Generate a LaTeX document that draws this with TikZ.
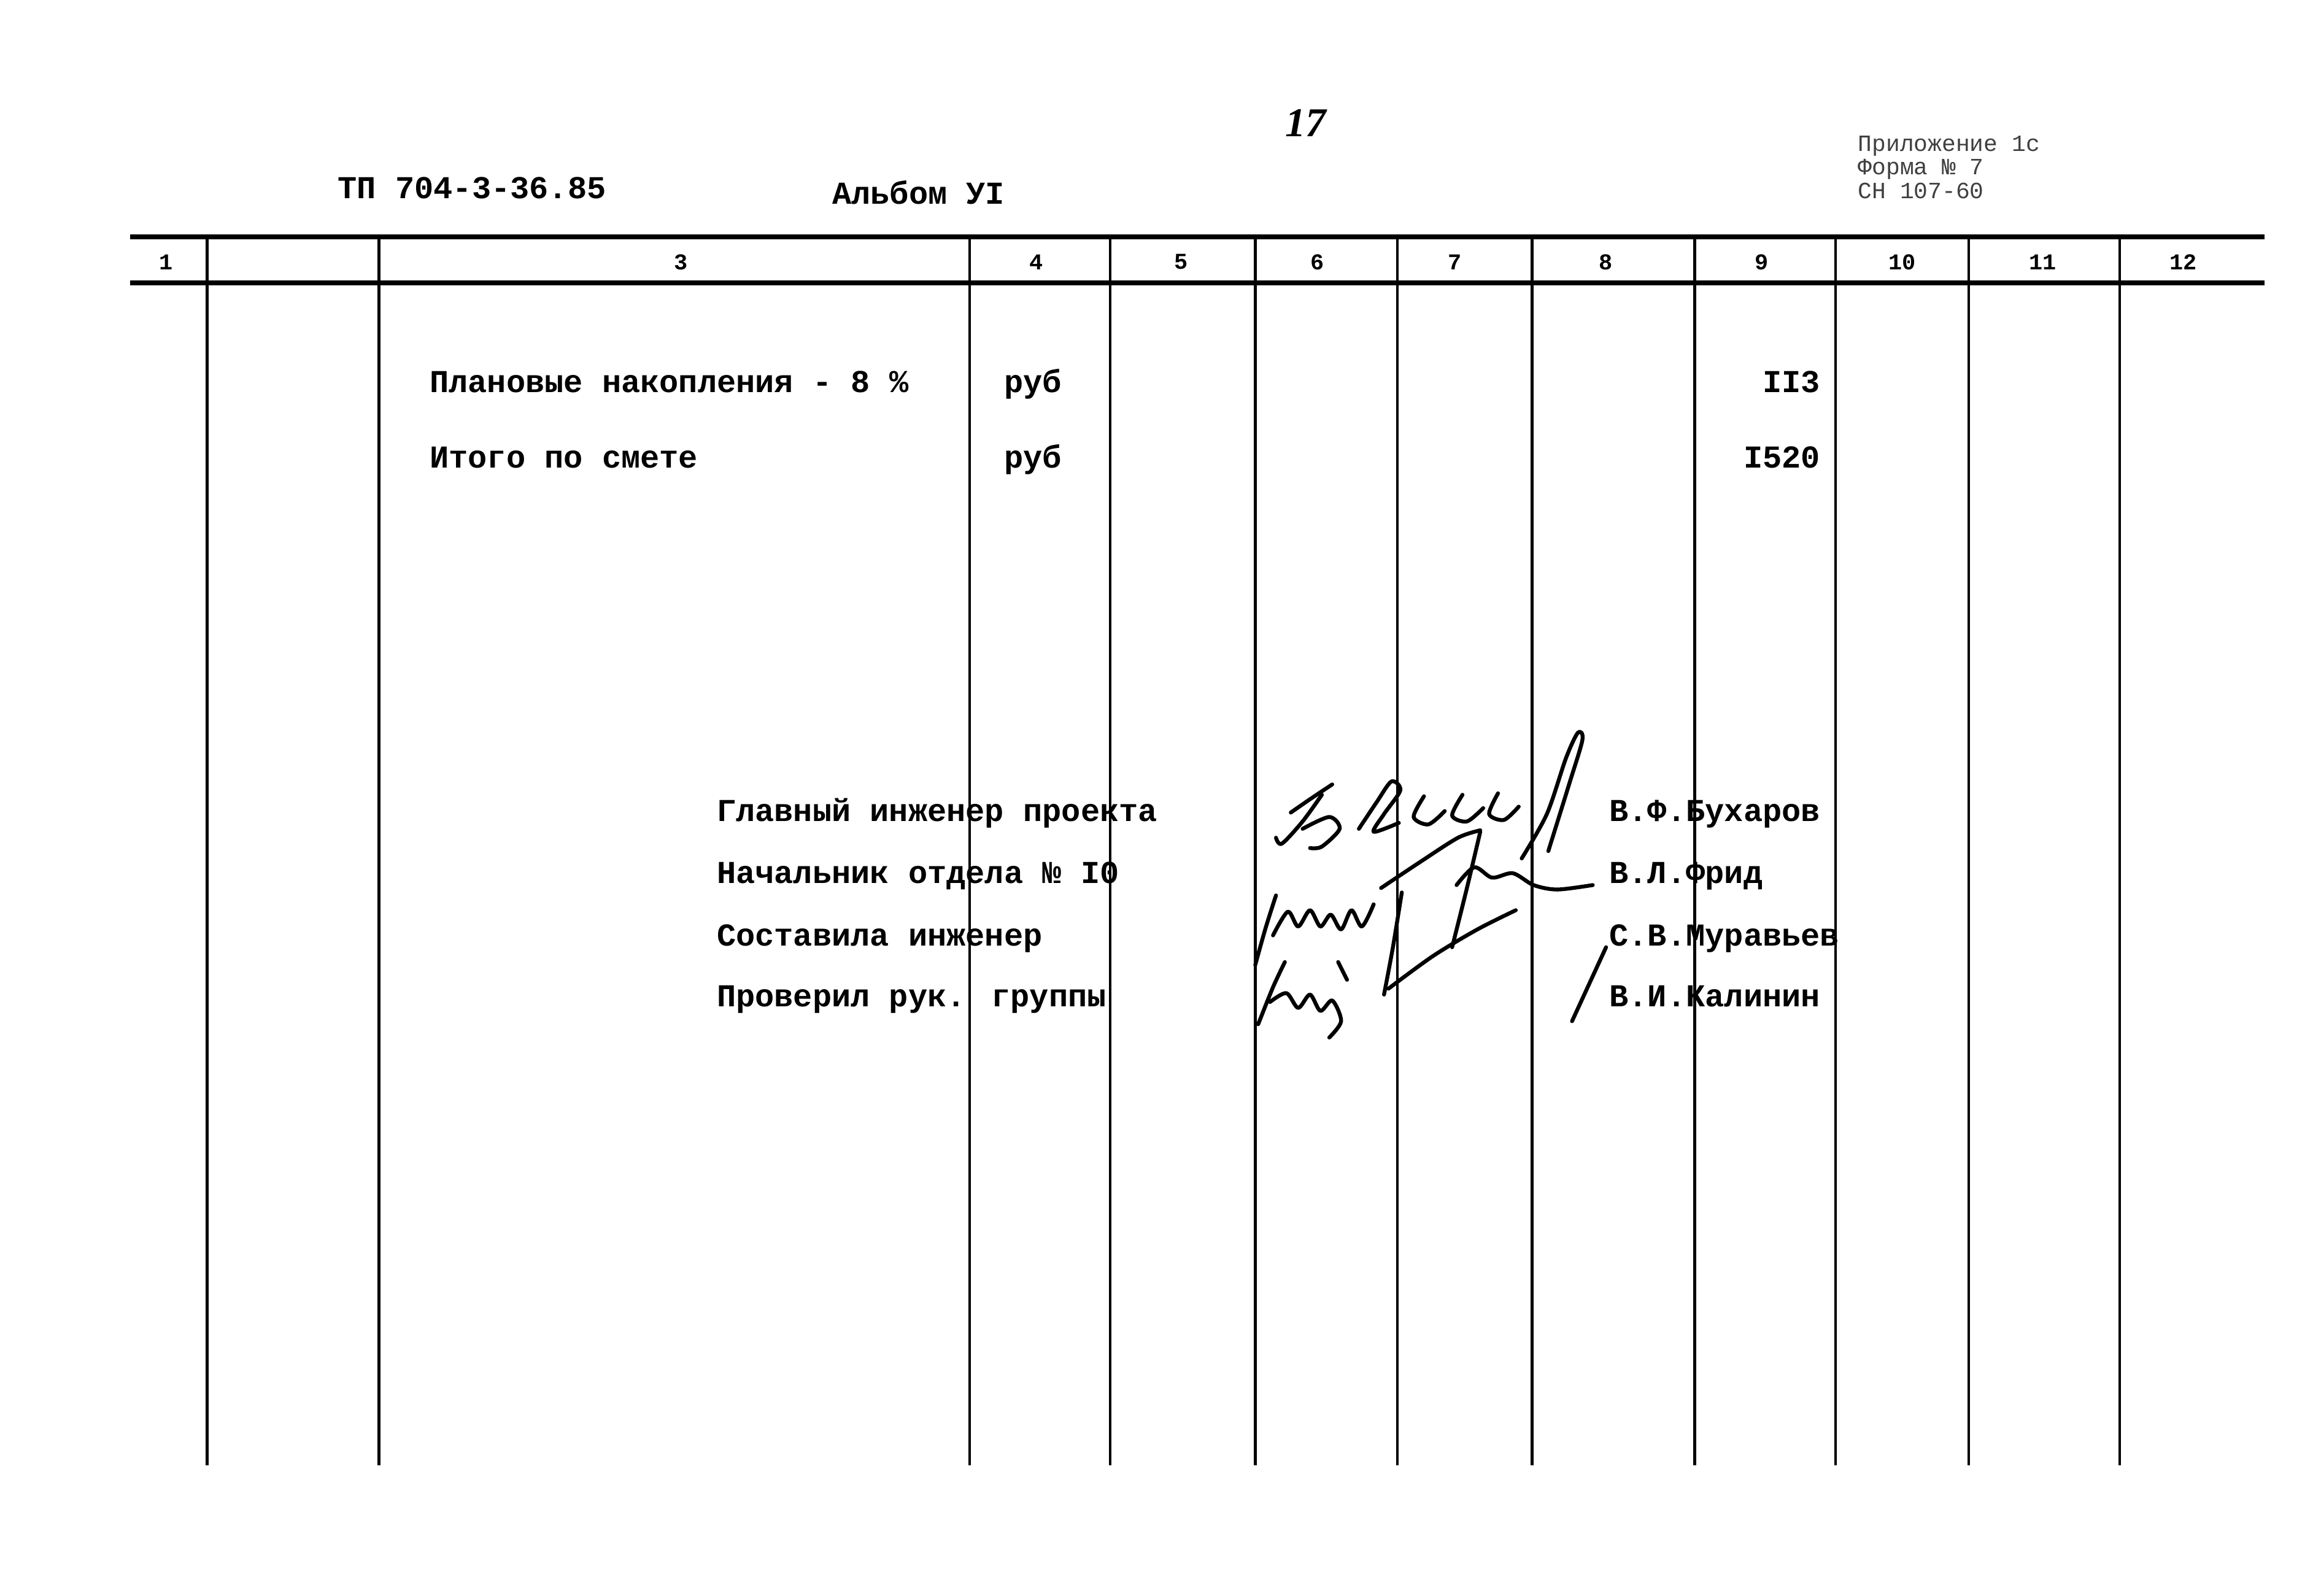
\documentclass[tikz,border=0pt]{standalone}
\usepackage{fontspec}
\usepackage{tikz}
\usetikzlibrary{arrows}
\newfontfamily\tw{Liberation Mono}
\newfontfamily\hand{Liberation Serif}
\tikzset{
  txt/.style={anchor=base west, inner sep=0pt, font=\tw\bfseries\fontsize{14.8}{16}\selectfont},
  txtr/.style={anchor=base east, inner sep=0pt, font=\tw\bfseries\fontsize{14.8}{16}\selectfont},
  num/.style={inner sep=0pt, font=\tw\bfseries\fontsize{10.5}{11}\selectfont},
  small/.style={anchor=base west, inner sep=0pt, text=black!75, font=\tw\fontsize{10.8}{11}\selectfont},
  rule/.style={line width=2.2pt},
  col/.style={line width=1.3pt},
  sig/.style={line width=1.8pt, line cap=round, line join=round}
}

\begin{document}
\begin{tikzpicture}[x=0.02412cm,y=-0.02412cm]
\useasboundingbox (0,0) rectangle (1568,1078);
\node[txt] (tp) at (228,134) {ТП 704-3-36.85};
\node[txt] (alb) at (562,138) {Альбом УI};
\node[inner sep=0pt, font=\hand\bfseries\itshape\fontsize{19}{20}\selectfont] (pg) at (882,83) {17};
\node[small] (pr1) at (1255,102) {Приложение 1с};
\node[small] (pr2) at (1255,118) {Форма № 7};
\node[small] (pr3) at (1255,134) {СН 107-60};
% header rules
\coordinate (tl) at (88,160);
\coordinate (tr) at (1530,160);
\coordinate (bl) at (88,191);
\coordinate (br) at (1530,191);
\draw[rule] (tl) -- (tr);
\draw[rule] (bl) -- (br);
% column lines
\coordinate (a1) at (140,160);
\coordinate (a2) at (140,990);
\coordinate (b1) at (256,160);
\coordinate (b2) at (256,990);
\coordinate (c1) at (655,160);
\coordinate (c2) at (655,990);
\coordinate (d1) at (750,160);
\coordinate (d2) at (750,990);
\coordinate (e1) at (848,160);
\coordinate (e2) at (848,990);
\coordinate (f1) at (944,160);
\coordinate (f2) at (944,990);
\coordinate (g1) at (1035,160);
\coordinate (g2) at (1035,990);
\coordinate (h1) at (1145,160);
\coordinate (h2) at (1145,990);
\coordinate (i1) at (1240,160);
\coordinate (i2) at (1240,990);
\coordinate (j1) at (1330,160);
\coordinate (j2) at (1330,990);
\coordinate (k1) at (1432,160);
\coordinate (k2) at (1432,990);
\draw[col] (a1) -- (a2);
\draw[col] (b1) -- (b2);
\draw[col] (c1) -- (c2);
\draw[col] (d1) -- (d2);
\draw[col] (e1) -- (e2);
\draw[col] (f1) -- (f2);
\draw[col] (g1) -- (g2);
\draw[col] (h1) -- (h2);
\draw[col] (i1) -- (i2);
\draw[col] (j1) -- (j2);
\draw[col] (k1) -- (k2);
% column numbers
\node[num] (n1) at (112,177) {1};
\node[num] (n3) at (460,177) {3};
\node[num] (n4) at (700,177) {4};
\node[num] (n5) at (798,177) {5};
\node[num] (n6) at (890,177) {6};
\node[num] (n7) at (983,177) {7};
\node[num] (n8) at (1085,177) {8};
\node[num] (n9) at (1190,177) {9};
\node[num] (n10) at (1285,177) {10};
\node[num] (n11) at (1380,177) {11};
\node[num] (n12) at (1475,177) {12};
% rows
\node[txt] (r1) at (290,265) {Плановые накопления - 8 \%};
\node[txt] (u1) at (678,265) {руб};
\node[txtr] (v1) at (1230,265) {II3};
\node[txt] (r2) at (290,316) {Итого по смете};
\node[txt] (u2) at (678,316) {руб};
\node[txtr] (v2) at (1230,316) {I520};
% signatures
\node[txt] (s1) at (484,555) {Главный инженер проекта};
\node[txt] (s2) at (484,597) {Начальник отдела № I0};
\node[txt] (s3) at (484,639) {Составила инженер};
\node[txt] (s4) at (484,680) {Проверил рук. группы};
\node[txt] (m1) at (1087,555) {В.Ф.Бухаров};
\node[txt] (m2) at (1087,597) {В.Л.Фрид};
\node[txt] (m3) at (1087,639) {С.В.Муравьев};
\node[txt] (m4) at (1087,680) {В.И.Калинин};
\draw[sig] plot[smooth] coordinates {(872,549) (885,540) (900,530)};
\draw[sig] plot[smooth] coordinates {(893,537) (880,555) (866,570) (862,566)};
\draw[sig] plot[smooth] coordinates {(880,560) (898,552) (905,560) (893,572) (885,573)};
\draw[sig] plot[smooth] coordinates {(918,560) (930,542) (940,528) (946,534) (935,550) (928,562) (945,556)};
\draw[sig] plot[smooth] coordinates {(962,538) (955,552) (965,557) (976,548)};
\draw[sig] plot[smooth] coordinates {(988,537) (981,551) (991,555) (1002,546)};
\draw[sig] plot[smooth] coordinates {(1012,536) (1006,550) (1016,554) (1026,545)};
\draw[sig] plot[smooth] coordinates {(1028,580) (1045,550) (1058,512) (1066,495) (1069,500) (1060,530) (1046,575)};
\draw[sig] plot[smooth] coordinates {(933,600) (960,582) (985,566) (1000,561)};
\draw[sig] plot[smooth] coordinates {(1000,562) (991,600) (981,640)};
\draw[sig] plot[smooth] coordinates {(984,598) (996,586) (1008,593) (1022,590) (1036,598) (1052,601) (1076,598)};
\draw[sig] plot[smooth] coordinates {(848,652) (855,627) (862,605)};
\draw[sig] plot[smooth] coordinates {(860,632) (870,616) (877,626) (885,615) (892,626) (899,618) (906,628) (913,615) (920,626) (928,611)};
\draw[sig] plot[smooth] coordinates {(947,603) (941,640) (935,672)};
\draw[sig] plot[smooth] coordinates {(938,668) (968,646) (998,628) (1024,615)};
\draw[sig] plot[smooth] coordinates {(850,692) (860,667) (868,650)};
\draw[sig] plot[smooth] coordinates {(858,677) (869,671) (877,681) (885,672) (892,683) (900,676) (906,690) (898,701)};
\draw[sig] plot[smooth] coordinates {(904,650) (910,662)};
\draw[sig] (1062,690) -- (1085,640);
\end{tikzpicture}
\end{document}
